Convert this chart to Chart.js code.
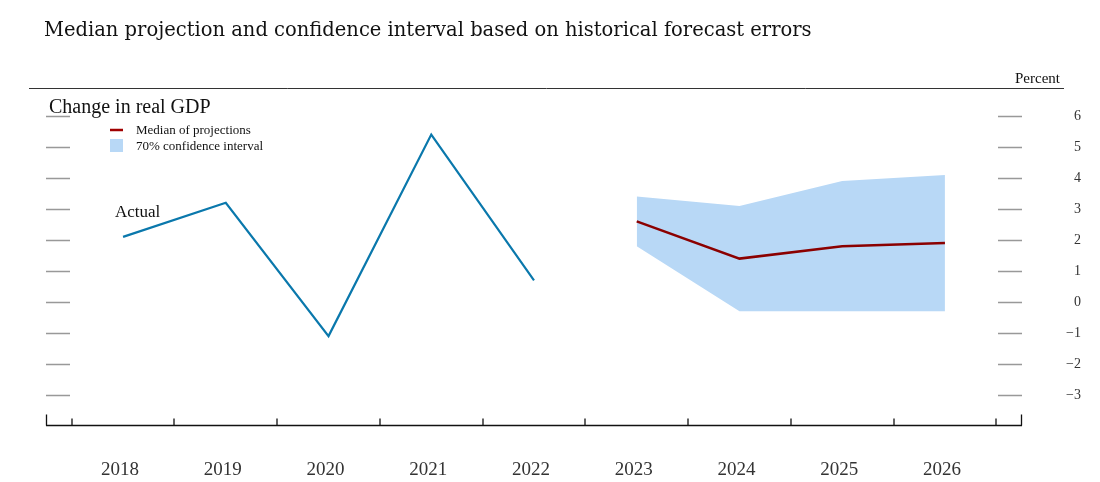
<!DOCTYPE html>
<html>
<head>
<meta charset="utf-8">
<script src="https://cdn.jsdelivr.net/npm/chart.js@4"></script>
<style>
  html, body { margin: 0; padding: 0; background: #fff; }
  #wrap { width: 1100px; height: 482px; }
</style>
</head>
<body>
<div id="wrap"><canvas id="gdp"></canvas></div>
<script>
const actualYears = [2018, 2019, 2020, 2021, 2022];
const actualValues = [2.1, 3.2, -1.1, 5.4, 0.7];

const projYears = [2023, 2024, 2025, 2026];
const medianValues = [2.6, 1.4, 1.8, 1.9];
const upperValues = [3.4, 3.1, 3.9, 4.1];
const lowerValues = [1.8, -0.3, -0.3, -0.3];

const yearLabels = ['2018', '2019', '2020', '2021', '2022', '2023', '2024', '2025', '2026'];
const yTicks = [6, 5, 4, 3, 2, 1, 0, -1, -2, -3];

const serif = '"Liberation Serif", "DejaVu Serif", serif';
const wideSerif = '"DejaVu Serif", serif';

function pts(xs, ys) {
  return xs.map((x, i) => ({x: x, y: ys[i]}));
}

// draws the frame, tick stubs and texts from the chart's own scales
const decor = {
  id: 'decor',
  afterDraw(chart) {
    const ctx = chart.ctx;
    const xs = chart.scales.x;
    const ys = chart.scales.y;
    const area = chart.chartArea;
    ctx.save();

    // title + rule
    ctx.fillStyle = '#111';
    ctx.textBaseline = 'alphabetic';
    ctx.font = '19.5px ' + wideSerif;
    ctx.textAlign = 'left';
    ctx.fillText('Median projection and confidence interval based on historical forecast errors', 44, 36);
    ctx.strokeStyle = '#333';
    ctx.lineWidth = 1;
    ctx.beginPath();
    ctx.moveTo(29, 88.5);
    ctx.lineTo(1064, 88.5);
    ctx.stroke();
    ctx.font = '15px ' + serif;
    ctx.textAlign = 'right';
    ctx.fillText('Percent', 1060, 83);

    // y stubs left and right
    ctx.strokeStyle = '#999';
    ctx.lineWidth = 1.5;
    ctx.fillStyle = '#333';
    ctx.font = '14px ' + serif;
    ctx.textBaseline = 'middle';
    yTicks.forEach(v => {
      const py = Math.round(ys.getPixelForValue(v)) + 0.5;
      ctx.beginPath();
      ctx.moveTo(area.left, py);
      ctx.lineTo(area.left + 24, py);
      ctx.moveTo(area.right - 24, py);
      ctx.lineTo(area.right, py);
      ctx.stroke();
      ctx.fillText(v < 0 ? '\u2212' + Math.abs(v) : String(v), 1081, py);
    });

    // x axis line and ticks
    const base = Math.round(area.bottom) - 0.5;
    ctx.strokeStyle = '#111';
    ctx.lineWidth = 1.3;
    ctx.beginPath();
    ctx.moveTo(area.left, base);
    ctx.lineTo(area.right, base);
    ctx.moveTo(area.left + 0.5, base);
    ctx.lineTo(area.left + 0.5, base - 11);
    ctx.moveTo(area.right - 0.5, base);
    ctx.lineTo(area.right - 0.5, base - 11);
    for (let i = 0; i <= yearLabels.length; i++) {
      const px = Math.round(xs.getPixelForValue(2017.5 + i));
      ctx.moveTo(px, base);
      ctx.lineTo(px, base - 7);
    }
    ctx.stroke();

    ctx.fillStyle = '#333';
    ctx.font = '19px ' + serif;
    ctx.textAlign = 'center';
    ctx.textBaseline = 'alphabetic';
    yearLabels.forEach(l => {
      ctx.fillText(l, xs.getPixelForValue(Number(l)) - 3, 475);
    });

    // panel texts and legend
    ctx.fillStyle = '#111';
    ctx.textAlign = 'left';
    ctx.font = '20px ' + serif;
    ctx.fillText('Change in real GDP', 49, 113);
    ctx.font = '17px ' + serif;
    ctx.fillText('Actual', 115, 217);

    ctx.font = '13px ' + serif;
    ctx.strokeStyle = '#a00000';
    ctx.lineWidth = 2.5;
    ctx.beginPath();
    ctx.moveTo(110, 130);
    ctx.lineTo(123, 130);
    ctx.stroke();
    ctx.fillText('Median of projections', 136, 134);
    ctx.fillStyle = '#b8d8f6';
    ctx.fillRect(110, 139, 13, 13);
    ctx.fillStyle = '#111';
    ctx.fillText('70% confidence interval', 136, 150);

    ctx.restore();
  }
};

new Chart(document.getElementById('gdp').getContext('2d'), {
  type: 'line',
  data: {
    datasets: [
      {
        label: 'Upper',
        data: pts(projYears, upperValues),
        borderWidth: 0,
        pointRadius: 0,
        backgroundColor: '#b8d8f6',
        fill: '+1',
        order: 3
      },
      {
        label: 'Lower',
        data: pts(projYears, lowerValues),
        borderWidth: 0,
        pointRadius: 0,
        fill: false,
        order: 3
      },
      {
        label: 'Median of projections',
        data: pts(projYears, medianValues),
        borderColor: '#8b0000',
        borderWidth: 2.5,
        pointRadius: 0,
        fill: false,
        order: 1
      },
      {
        label: 'Actual',
        data: pts(actualYears, actualValues),
        borderColor: '#0a78ac',
        borderWidth: 2.2,
        pointRadius: 0,
        fill: false,
        order: 1
      }
    ]
  },
  options: {
    responsive: true,
    maintainAspectRatio: false,
    animation: { duration: 0 },
    layout: {
      padding: { left: 46, right: 78, top: 85, bottom: 56 }
    },
    scales: {
      x: { type: 'linear', min: 2017.25, max: 2026.75, display: false },
      y: { min: -4, max: 7, display: false }
    },
    plugins: {
      legend: { display: false },
      tooltip: { enabled: false }
    },
    events: []
  },
  plugins: [decor]
});
</script>
</body>
</html>
